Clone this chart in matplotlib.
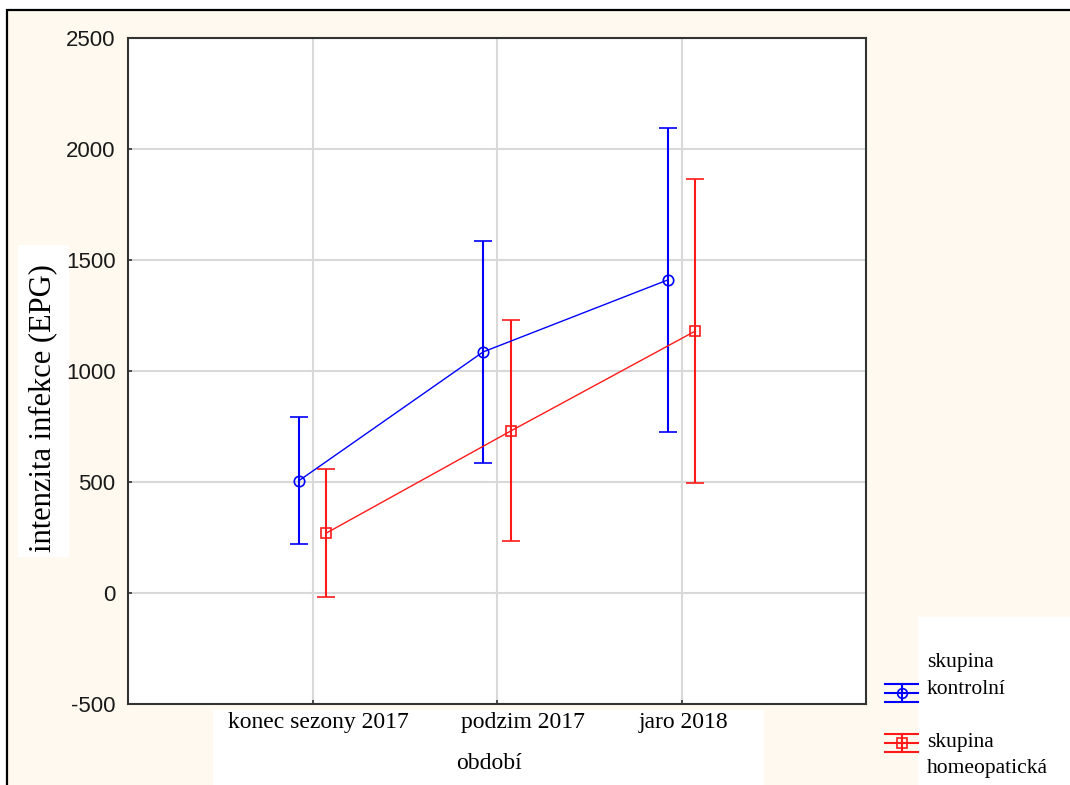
import numpy as np
import matplotlib
matplotlib.use("Agg")
import matplotlib.pyplot as plt
import matplotlib.transforms as mtransforms
from matplotlib.patches import Rectangle
from matplotlib.lines import Line2D

plt.rcParams["axes.unicode_minus"] = False

# === Data ===
periods = ["konec sezony 2017", "podzim 2017", "jaro 2018"]
kontrolni_mean = [505, 1086, 1410]
kontrolni_err = [286, 500, 685]
homeo_mean = [270, 730, 1180]
homeo_err = [290, 498, 685]

series_names = ["skupina\nkontrolní", "skupina\nhomeopatická"]

BLUE = "#0000ff"
RED = "#ff1a1a"
CREAM = "#fff9ef"
W, H = 1070, 785

fig = plt.figure(figsize=(W / 100, H / 100), dpi=100)
fig.patch.set_facecolor("white")


def px_rect(x0, y0, x1, y1, **kw):
    # rectangle in pixel coords measured from the top-left corner
    return Rectangle((x0 / W, 1 - y1 / H), (x1 - x0) / W, (y1 - y0) / H,
                     transform=fig.transFigure, **kw)


# cream page with black frame on top/left
fig.add_artist(px_rect(7, 10, W + 5, H + 5, facecolor=CREAM,
                       edgecolor="black", linewidth=1.6, zorder=-3))
# white boxes behind the text blocks
fig.add_artist(px_rect(18, 245, 69, 557, facecolor="white", edgecolor="none", zorder=-2))
fig.add_artist(px_rect(213, 710, 764, H + 2, facecolor="white", edgecolor="none", zorder=-2))
fig.add_artist(px_rect(918, 617, W + 2, H + 2, facecolor="white", edgecolor="none", zorder=-2))

ax = fig.add_axes([128 / W, (H - 704) / H, (866 - 128) / W, (704 - 38) / H])
ax.set_facecolor("white")

x = np.arange(1, len(periods) + 1)
off = 0.075

ax.errorbar(x - off, kontrolni_mean, yerr=kontrolni_err, color=BLUE,
            marker="o", markersize=7.5, markerfacecolor="none", markeredgewidth=1.2,
            linewidth=1.0, elinewidth=1.5, capsize=6.5, capthick=1.5, zorder=3)
ax.errorbar(x + off, homeo_mean, yerr=homeo_err, color=RED,
            marker="s", markersize=7.5, markerfacecolor="none", markeredgewidth=1.2,
            linewidth=1.0, elinewidth=1.5, capsize=6.5, capthick=1.5, zorder=3)

ax.set_xlim(0, 4)
ax.set_ylim(-500, 2500)
ax.set_yticks(np.arange(-500, 2501, 500))
ax.set_xticks(x)
ax.set_xticklabels([])
ax.grid(True, color="#d9d9d9", linewidth=1.5)
ax.set_axisbelow(True)

# category labels, set a little right of their ticks
blend = mtransforms.blended_transform_factory(ax.transData, ax.transAxes)
for xi, name, dx in zip(x, periods, [6, 26, 2]):
    shift = mtransforms.ScaledTranslation(dx / 100, -8 / 100, fig.dpi_scale_trans)
    ax.text(xi, 0, name, transform=blend + shift, ha="center", va="top",
            family="Liberation Serif", fontsize=17, clip_on=False)

for lbl in ax.get_yticklabels():
    lbl.set_family("Liberation Sans")
    lbl.set_fontsize(16)

ax.tick_params(axis="both", direction="in", length=3, width=1.2, colors="#333333")
ax.tick_params(axis="y", pad=9, labelcolor="#1a1a1a")
for sp in ax.spines.values():
    sp.set_linewidth(1.5)
    sp.set_color("#333333")

ax.set_xlabel("období", family="Liberation Serif", fontsize=17)
ax.xaxis.set_label_coords(489 / W, 1 - 753 / H, transform=fig.transFigure)
ax.set_ylabel("intenzita infekce (EPG)", family="Liberation Serif", fontsize=22)
ax.yaxis.set_label_coords(43 / W, 1 - 408 / H, transform=fig.transFigure)
ax.yaxis.label.set_va("center")


# === Legend (drawn by hand) ===
def legend_glyph(cy, color, marker):
    x0, x1 = 885, 918
    xc = (x0 + x1) / 2
    for dy in (-9, 0, 9):
        fig.add_artist(Line2D([x0 / W, x1 / W], [1 - (cy + dy) / H] * 2,
                              transform=fig.transFigure, color=color, linewidth=1.5))
    fig.add_artist(Line2D([xc / W] * 2, [1 - (cy - 9) / H, 1 - (cy + 9) / H],
                          transform=fig.transFigure, color=color, linewidth=1.5))
    fig.add_artist(Line2D([xc / W], [1 - cy / H], transform=fig.transFigure,
                          marker=marker, markersize=7, markerfacecolor="none",
                          markeredgecolor=color, markeredgewidth=1.2))


legend_glyph(693, BLUE, "o")
legend_glyph(743, RED, "s")
legend_lines = [(662, series_names[0].split("\n")[0]), (690, series_names[0].split("\n")[1]),
                (742, series_names[1].split("\n")[0]), (768, series_names[1].split("\n")[1])]
for ly, txt in legend_lines:
    fig.text(927 / W, 1 - ly / H, txt, family="Liberation Serif",
             fontsize=15.5, va="center", ha="left")

fig.savefig("out.png", dpi=100)
